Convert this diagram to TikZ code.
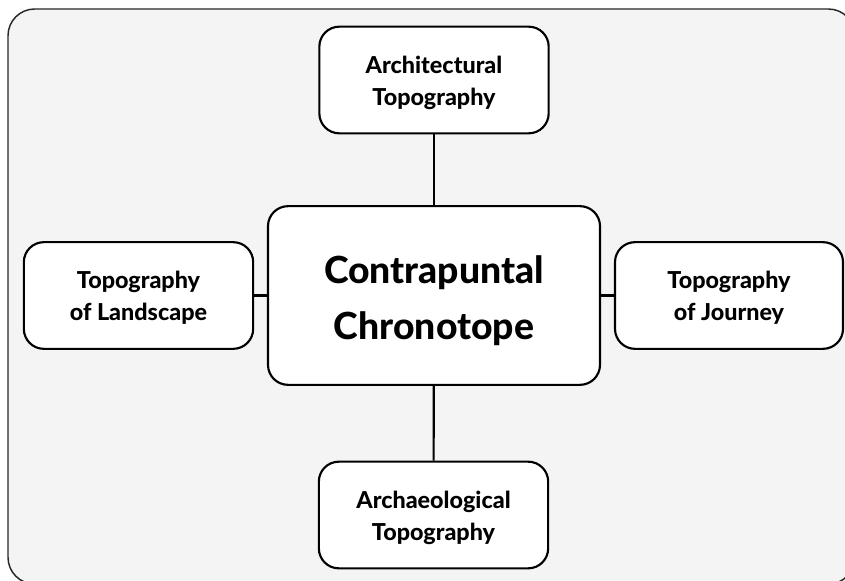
\documentclass[tikz,border=0pt]{standalone}
\usepackage{fontspec}
\setmainfont{Lato}[BoldFont={Lato Heavy}]
\begin{document}
\begin{tikzpicture}[x=0.75pt,y=-0.75pt,
  box/.style={draw=black, line width=1.6pt, fill=white, rounded corners=15pt,
    inner sep=0pt, align=center, font=\fontsize{17.5}{24}\selectfont\bfseries},
  small/.style={box, minimum width=172pt, minimum height=80pt},
  big/.style={box, minimum width=249pt, minimum height=134pt,
    font=\fontsize{28}{42}\selectfont\bfseries},
  link/.style={draw=black, line width=1.6pt}]
\useasboundingbox (0,0) rectangle (845,581);
\begin{scope}
\clip (0,0) rectangle (845,581);
\draw[fill={rgb,255:red,244;green,244;blue,244}, draw={rgb,255:red,40;green,40;blue,40}, line width=1.1pt, rounded corners=20pt] (8,9) rectangle (855,584);
\end{scope}
\node[big] (c) at (434,295.5) {\rule{0pt}{28pt}Contrapuntal\\Chronotope};
\node[small] (t) at (434,80) {\rule{0pt}{17pt}Architectural\\Topography};
\node[small] (b) at (433.5,515) {\rule{0pt}{17pt}Archaeological\\Topography};
\node[small] (l) at (138.5,295.5) {\rule{0pt}{17pt}Topography\\of Landscape};
\node[small, minimum width=171pt] (r) at (729,295.5) {\rule{0pt}{17pt}Topography\\of Journey};
\draw[link] (t) -- (c);
\draw[link] (c) -- (b);
\draw[link] (l) -- (c);
\draw[link] (c) -- (r);
\end{tikzpicture}
\end{document}
